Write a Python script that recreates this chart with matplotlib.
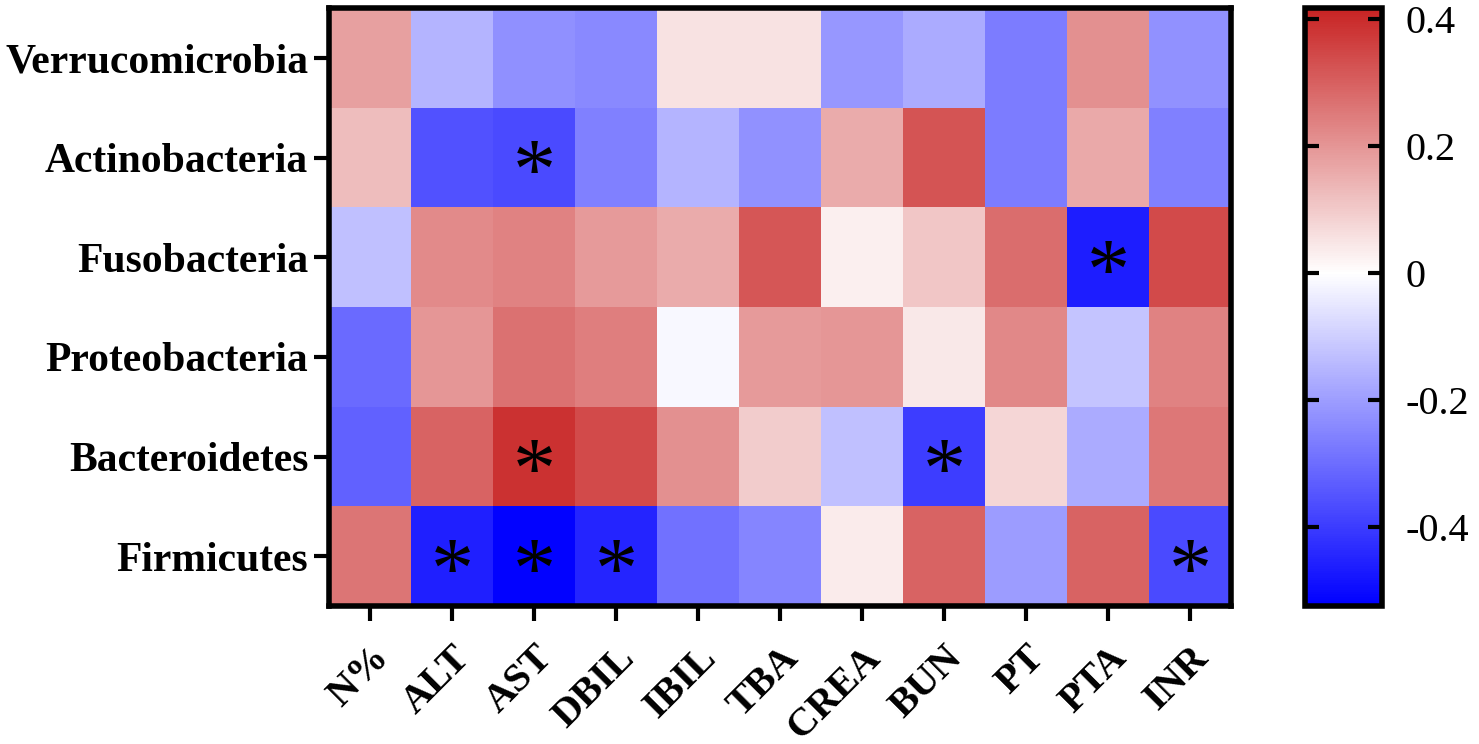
import numpy as np
import matplotlib
matplotlib.use("Agg")
import matplotlib.pyplot as plt
from matplotlib.colors import LinearSegmentedColormap, Normalize
from matplotlib.font_manager import FontProperties
from matplotlib.textpath import TextPath
from matplotlib.transforms import offset_copy

plt.rcParams['font.family'] = ['Liberation Serif', 'DejaVu Serif']

# ---- data ----
phyla = ["Verrucomicrobia", "Actinobacteria", "Fusobacteria",
         "Proteobacteria", "Bacteroidetes", "Firmicutes"]
indices = ["N%", "ALT", "AST", "DBIL", "IBIL", "TBA",
           "CREA", "BUN", "PT", "PTA", "INR"]

r_verruco = [0.18, -0.153, -0.23, -0.245, 0.057, 0.055, -0.214, -0.173, -0.27, 0.21, -0.224]
r_actino  = [0.124, -0.357, -0.373, -0.26, -0.153, -0.224, 0.158, 0.325, -0.27, 0.162, -0.26]
r_fuso    = [-0.128, 0.22, 0.235, 0.19, 0.158, 0.32, 0.03, 0.105, 0.277, -0.463, 0.344]
r_proteo  = [-0.306, 0.197, 0.267, 0.242, -0.014, 0.19, 0.2, 0.044, 0.223, -0.122, 0.235]
r_bactero = [-0.326, 0.296, 0.39, 0.344, 0.21, 0.095, -0.128, -0.398, 0.076, -0.173, 0.258]
r_firmi   = [0.26, -0.459, -0.52, -0.449, -0.29, -0.25, 0.035, 0.296, -0.204, 0.296, -0.373]

# significant cells (row, col)
sig_cells = [(1, 2), (2, 9), (4, 2), (4, 7), (5, 1), (5, 2), (5, 3), (5, 10)]

cbar_ticks = [0.4, 0.2, 0, -0.2, -0.4]
cbar_labels = ["0.4", "0.2", "0", "-0.2", "-0.4"]

vmin, vmax = -0.525, 0.418

data = np.array([r_verruco, r_actino, r_fuso, r_proteo, r_bactero, r_firmi])

# blue - white - red, white pinned at zero
zero_pos = -vmin / (vmax - vmin)
cmap = LinearSegmentedColormap.from_list(
    "bwr_prism",
    [(0.0, (0, 0, 1)), (zero_pos, (1, 1, 1)), (1.0, (200 / 255, 35 / 255, 35 / 255))])
norm = Normalize(vmin=vmin, vmax=vmax)

fig = plt.figure(figsize=(14.79, 7.44), dpi=100)
ax = fig.add_axes([329 / 1479, 1 - 606 / 744, (1231 - 329) / 1479, (606 - 8) / 744])
cax = fig.add_axes([1305 / 1479, 1 - 606 / 744, (1382 - 1305) / 1479, (606 - 8) / 744])

mesh = ax.pcolormesh(data, cmap=cmap, norm=norm)
ax.set_xlim(0, len(indices))
ax.set_ylim(len(phyla), 0)

# asterisks: centre the ink of the glyph on the cell
star_size = 62
star_prop = FontProperties(family="Liberation Serif", weight="normal", size=star_size)
ext = TextPath((0, 0), "*", size=star_size, prop=star_prop).get_extents()
star_dy = -(ext.y0 + ext.y1) / 2   # points, shift baseline down
star_tr = offset_copy(ax.transData, fig=fig, x=0, y=star_dy, units="points")
for r, c in sig_cells:
    ax.text(c + 0.5, r + 0.5, "*", ha="center", va="baseline",
            fontproperties=star_prop, color="black", transform=star_tr)

ax.set_yticks(np.arange(len(phyla)) + 0.5)
ax.set_yticklabels(phyla, fontsize=30, fontweight="bold")
ax.set_xticks(np.arange(len(indices)) + 0.5)
ax.set_xticklabels(indices, fontsize=29, fontweight="bold", rotation=45,
                   ha="right", rotation_mode="anchor")
ax.tick_params(axis="both", direction="out", length=11, width=3, color="black")
ax.tick_params(axis="x", pad=13)
ax.tick_params(axis="y", pad=4)
for sp in ax.spines.values():
    sp.set_linewidth(4)

cb = fig.colorbar(mesh, cax=cax)
cb.set_ticks(cbar_ticks)
cb.set_ticklabels(cbar_labels)
cb.outline.set_linewidth(4)
cax.tick_params(axis="y", direction="in", left=True, right=True, length=10,
                width=3, labelsize=29, pad=17)

fig.savefig("out.png", dpi=100)
